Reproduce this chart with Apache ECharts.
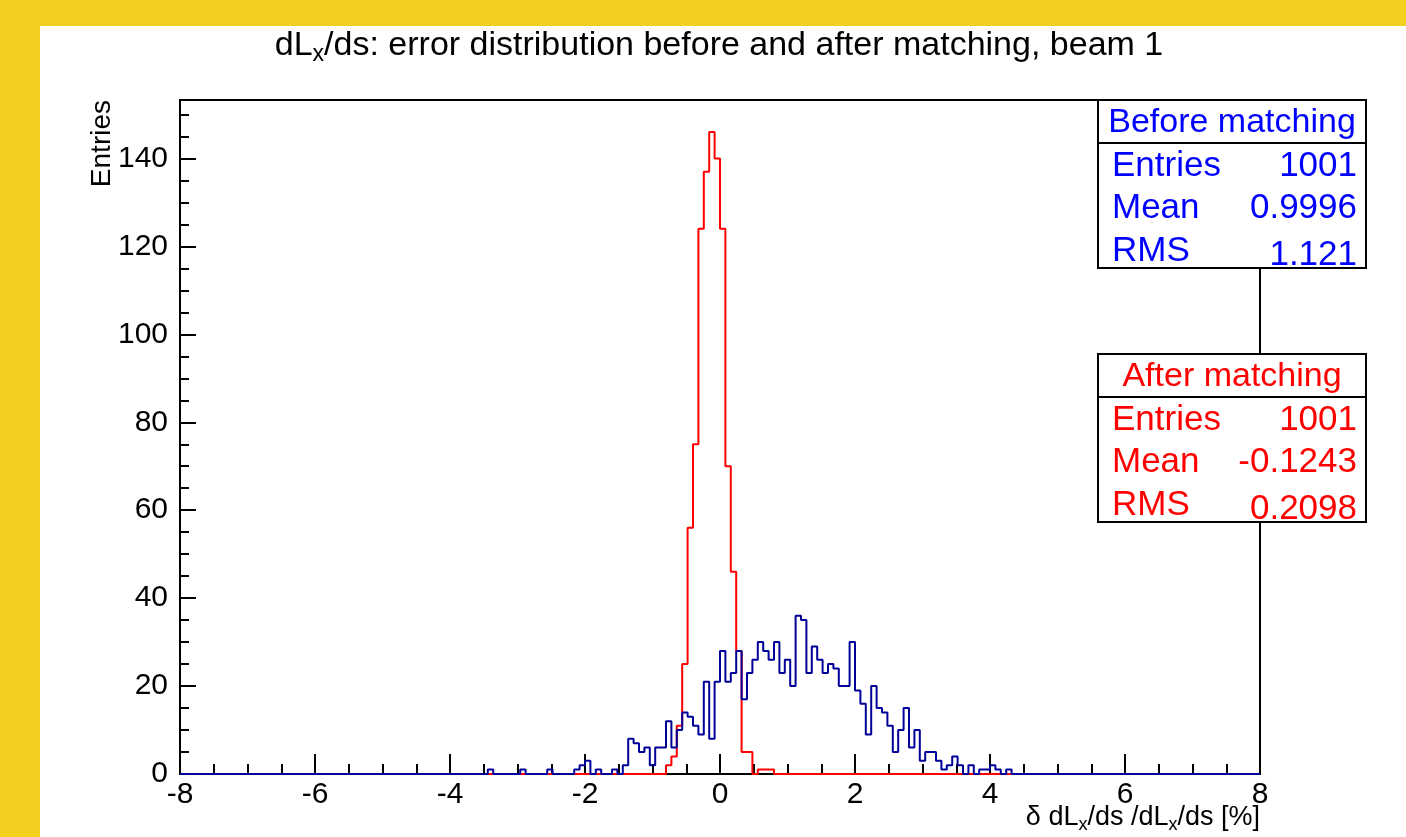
<!DOCTYPE html>
<html>
<head>
<meta charset="utf-8">
<script src="https://cdn.jsdelivr.net/npm/echarts@6/dist/echarts.min.js"></script>
<style>
  html, body { margin: 0; padding: 0; background: #f2d01f; }
  #chart { position: absolute; left: 0; top: 0; width: 1406px; height: 837px; }
</style>
</head>
<body>
<div id="chart"></div>
<script>
// Histogram binning: 200 bins over [-8, 8]
const X_MIN = -8;
const X_MAX = 8;
const N_BINS = 200;

// Entries per bin, "before matching" (first listed bin index, then counts)
const beforeFirstBin = 57;
const beforeCounts = [
  1, 0, 0, 0, 0, 0, 1, 0, 0, 0, 0, 1, 0, 0, 0, 0, 1, 2, 3, 0,
  1, 0, 0, 1, 0, 2, 8, 7, 5, 6, 2, 6, 6, 12, 6, 10, 14, 13, 11, 9,
  21, 8, 21, 28, 21, 23, 28, 17, 23, 26, 30, 28, 26, 30, 23, 26, 20, 36, 35, 23,
  29, 26, 23, 25, 24, 20, 20, 30, 19, 16, 9, 20, 15, 14, 11, 5, 10, 15, 6, 10,
  3, 5, 5, 3, 1, 2, 4, 2, 0, 2, 0, 1, 1, 2, 1, 0, 1
];

// Entries per bin, "after matching"
const afterFirstBin = 90;
const afterCounts = [2, 4, 11, 25, 56, 75, 124, 137, 146, 140, 124, 70, 46, 28, 5, 5, 0, 1, 1, 1];

// Axis ranges and labels
const Y_MAX = 153.3;
const yLabelValues = [0, 20, 40, 60, 80, 100, 120, 140];

// Statistics boxes
const statNames = ['Entries', 'Mean', 'RMS'];
const beforeStats = ['1001', '0.9996', '1.121'];
const afterStats = ['1001', '-0.1243', '0.2098'];

const FONT = '"Liberation Sans", Arial, Helvetica, sans-serif';
const BLUE_LINE = '#000099';
const RED_LINE = '#ff0000';

function histPoints(firstBin, counts) {
  const w = (X_MAX - X_MIN) / N_BINS;
  const pts = [];
  for (let i = 0; i < N_BINS; i++) {
    const k = i - firstBin;
    const c = (k >= 0 && k < counts.length) ? counts[k] : 0;
    pts.push([X_MIN + i * w, c]);
  }
  pts.push([X_MAX, 0]);
  return pts;
}

// rich-text styles for a label with subscripts
function richFor(size) {
  return {
    n: { fontSize: size, fontFamily: FONT, color: '#000', lineHeight: Math.round(size * 1.2) },
    s: { fontSize: Math.round(size * 0.68), fontFamily: FONT, color: '#000',
         lineHeight: Math.round(size * 0.3), verticalAlign: 'bottom' }
  };
}

function statBox(top, color, header, values) {
  const left = 1098, right = 1366, rowH = 42.5;
  const font = '35px ' + FONT;
  const els = [];
  els.push({ type: 'rect', z: 100, shape: { x: left, y: top, width: right - left, height: 168 },
             style: { fill: '#fff', stroke: '#000', lineWidth: 2 } });
  els.push({ type: 'line', z: 101, shape: { x1: left, y1: top + 43, x2: right, y2: top + 43 },
             style: { stroke: '#000', lineWidth: 2 } });
  els.push({ type: 'text', z: 102, x: (left + right) / 2, y: top + 23,
             style: { text: header, fill: color, font: '34px ' + FONT, align: 'center', verticalAlign: 'middle' } });
  statNames.forEach((name, i) => {
    const cy = top + 66 + i * rowH;
    els.push({ type: 'text', z: 102, x: left + 14, y: cy,
               style: { text: name, fill: color, font: font, align: 'left', verticalAlign: 'middle' } });
    els.push({ type: 'text', z: 102, x: right - 9, y: cy + (i === 2 ? 4 : 0),
               style: { text: values[i], fill: color, font: font, align: 'right', verticalAlign: 'middle' } });
  });
  return els;
}

const chart = echarts.init(document.getElementById('chart'), null, { renderer: 'canvas' });

const option = {
  backgroundColor: '#f2d01f',
  animation: false,
  grid: {
    left: 180, right: 146, top: 100, bottom: 63,
    show: true, backgroundColor: '#fff', borderColor: '#000', borderWidth: 2,
    containLabel: false, outerBoundsMode: 'none'
  },
  xAxis: {
    type: 'value', min: X_MIN, max: X_MAX, interval: 2,
    axisLine: { show: true, onZero: false, lineStyle: { color: '#000', width: 2 } },
    axisTick: { show: true, inside: true, length: 20, lineStyle: { color: '#000', width: 2 } },
    minorTick: { show: true, splitNumber: 4, length: 10, lineStyle: { color: '#000', width: 2 } },
    axisLabel: { fontSize: 30, fontFamily: FONT, color: '#000', margin: 6 },
    splitLine: { show: false }
  },
  yAxis: [
    {
      type: 'value', min: 0, max: Y_MAX, interval: 20, position: 'left',
      axisLine: { show: true, onZero: false, lineStyle: { color: '#000', width: 2 } },
      axisTick: { show: true, inside: true, length: 16, lineStyle: { color: '#000', width: 2 } },
      axisLabel: {
        fontSize: 30, fontFamily: FONT, color: '#000', margin: 12, showMaxLabel: false,
        formatter: v => (yLabelValues.indexOf(v) >= 0 ? String(v) : '')
      },
      splitLine: { show: false }
    },
    {
      // minor ticks every 5 entries
      type: 'value', min: 0, max: Y_MAX, interval: 5, position: 'left', offset: 0,
      axisLine: { show: false, onZero: false },
      axisTick: { show: true, inside: true, length: 9, lineStyle: { color: '#000', width: 2 } },
      axisLabel: { show: false },
      splitLine: { show: false }
    }
  ],
  series: [
    {
      name: 'After matching', type: 'line', step: 'end', yAxisIndex: 0,
      data: histPoints(afterFirstBin, afterCounts),
      showSymbol: false, symbol: 'none', clip: false,
      lineStyle: { color: RED_LINE, width: 2 }
    },
    {
      name: 'Before matching', type: 'line', step: 'end', yAxisIndex: 0,
      data: histPoints(beforeFirstBin, beforeCounts),
      showSymbol: false, symbol: 'none', clip: false,
      lineStyle: { color: BLUE_LINE, width: 2 }
    }
  ],
  graphic: [
    { type: 'rect', z: -100, shape: { x: 40, y: 26, width: 1366, height: 811 }, style: { fill: '#fff' } },
    {
      type: 'text', z: 10, x: 719, y: 46,
      style: {
        text: '{n|dL}{s|x}{n|/ds: error distribution before and after matching, beam 1}',
        rich: richFor(34), align: 'center', verticalAlign: 'middle'
      }
    },
    {
      type: 'text', z: 10, x: 1260, y: 818,
      style: {
        text: '{n|\u03b4 dL}{s|x}{n|/ds /dL}{s|x}{n|/ds [%]}',
        rich: richFor(27), align: 'right', verticalAlign: 'middle'
      }
    },
    {
      type: 'text', z: 10, x: 102, y: 100, rotation: Math.PI / 2,
      style: { text: 'Entries', fill: '#000', font: '28px ' + FONT, align: 'right', verticalAlign: 'middle' }
    },
    ...statBox(100, '#0000ff', 'Before matching', beforeStats),
    ...statBox(354, '#ff0000', 'After matching', afterStats)
  ]
};

chart.setOption(option);
</script>
</body>
</html>
